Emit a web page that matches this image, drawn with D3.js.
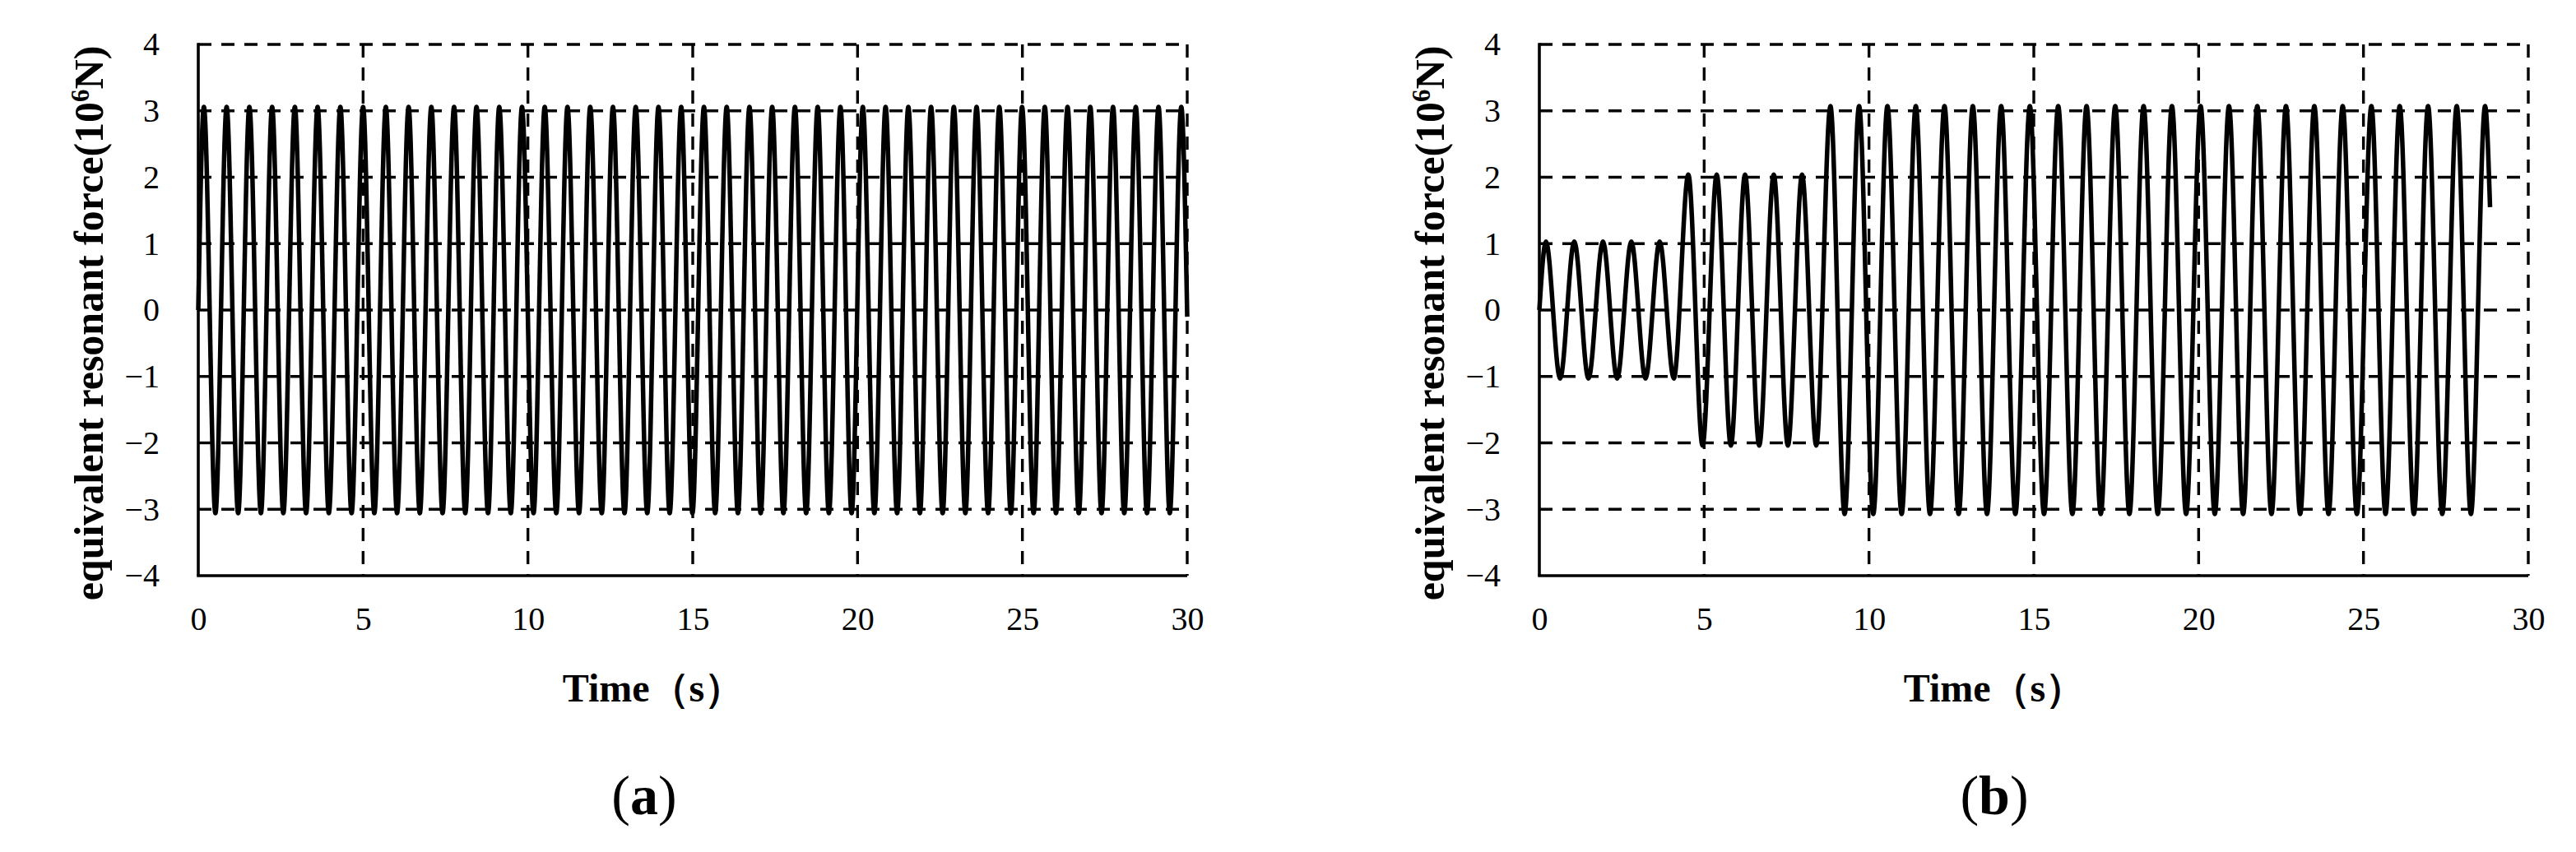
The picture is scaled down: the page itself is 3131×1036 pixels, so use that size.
<!DOCTYPE html>
<html>
<head>
<meta charset="utf-8">
<script src="https://cdn.jsdelivr.net/npm/d3@7"></script>
<style>
  body { margin: 0; background: #fff; }
  text { font-family: "Liberation Serif", "Times New Roman", serif; fill: #000; }
</style>
</head>
<body>
<div id="chart"></div>
<script>
// axis ticks
var xTicks = [0, 5, 10, 15, 20, 25, 30];
var yTicks = [-4, -3, -2, -1, 0, 1, 2, 3, 4];

// (a) constant resonance - peaks / troughs
var timeA = [0,
  0.17, 0.52, 0.86, 1.21, 1.55, 1.90, 2.24, 2.58, 2.93, 3.27, 3.62, 3.96, 4.31, 4.65, 5.00, 5.34,
  5.69, 6.03, 6.38, 6.72, 7.07, 7.41, 7.76, 8.10, 8.44, 8.79, 9.13, 9.48, 9.82, 10.17, 10.51, 10.86,
  11.20, 11.55, 11.89, 12.24, 12.58, 12.93, 13.27, 13.62, 13.96, 14.30, 14.65, 14.99, 15.34, 15.68,
  16.03, 16.37, 16.72, 17.06, 17.41, 17.75, 18.10, 18.44, 18.79, 19.13, 19.48, 19.82, 20.16, 20.51,
  20.85, 21.20, 21.54, 21.89, 22.23, 22.58, 22.92, 23.27, 23.61, 23.96, 24.30, 24.65, 24.99, 25.34,
  25.68, 26.02, 26.37, 26.71, 27.06, 27.40, 27.75, 28.09, 28.44, 28.78, 29.13, 29.47, 29.82,
  30];
var forceA = [0,
  3.06, -3.06, 3.06, -3.06, 3.06, -3.06, 3.06, -3.06, 3.06, -3.06, 3.06, -3.06, 3.06, -3.06, 3.06, -3.06,
  3.06, -3.06, 3.06, -3.06, 3.06, -3.06, 3.06, -3.06, 3.06, -3.06, 3.06, -3.06, 3.06, -3.06, 3.06, -3.06,
  3.06, -3.06, 3.06, -3.06, 3.06, -3.06, 3.06, -3.06, 3.06, -3.06, 3.06, -3.06, 3.06, -3.06, 3.06, -3.06,
  3.06, -3.06, 3.06, -3.06, 3.06, -3.06, 3.06, -3.06, 3.06, -3.06, 3.06, -3.06, 3.06, -3.06, 3.06, -3.06,
  3.06, -3.06, 3.06, -3.06, 3.06, -3.06, 3.06, -3.06, 3.06, -3.06, 3.06, -3.06, 3.06, -3.06, 3.06, -3.06,
  3.06, -3.06, 3.06, -3.06, 3.06, -3.06,
  3.06,
  -0.10];

// (b) stepped resonance
var timeB = [0,
  0.20, 0.63, 1.06, 1.49, 1.93, 2.36, 2.79, 3.22, 3.65, 4.08,
  4.52, 4.95, 5.38, 5.81, 6.24, 6.67, 7.11, 7.54, 7.97, 8.40,
  8.83, 9.26, 9.70, 10.13, 10.56, 10.99, 11.42, 11.85, 12.29, 12.72, 13.15, 13.58, 14.01, 14.44,
  14.88, 15.31, 15.74, 16.17, 16.60, 17.03, 17.47, 17.90, 18.33, 18.76, 19.19, 19.62, 20.06, 20.49,
  20.92, 21.35, 21.78, 22.21, 22.65, 23.08, 23.51, 23.94, 24.37, 24.80, 25.24, 25.67, 26.10, 26.53,
  26.96, 27.39, 27.83, 28.26, 28.69,
  28.84];
var forceB = [0,
  1.03, -1.03, 1.03, -1.03, 1.03, -1.03, 1.03, -1.03, 1.03, -1.03,
  2.04, -2.04, 2.04, -2.04, 2.04, -2.04, 2.04, -2.04, 2.04, -2.04,
  3.07, -3.07, 3.07, -3.07, 3.07, -3.07, 3.07, -3.07, 3.07, -3.07, 3.07, -3.07, 3.07, -3.07,
  3.07, -3.07, 3.07, -3.07, 3.07, -3.07, 3.07, -3.07, 3.07, -3.07, 3.07, -3.07, 3.07, -3.07,
  3.07, -3.07, 3.07, -3.07, 3.07, -3.07, 3.07, -3.07, 3.07, -3.07, 3.07, -3.07, 3.07, -3.07,
  3.07, -3.07, 3.07, -3.07, 3.07,
  1.55];

var W = 3131, H = 1036;
var plotTop = 54, plotBottom = 700;

var svg = d3.select("#chart").append("svg")
    .attr("width", W)
    .attr("height", H)
    .style("background", "#fff");

var y = d3.scaleLinear().domain([-4, 4]).range([plotBottom, plotTop]);

var panels = [
  { left: 241, right: 1443, t: timeA, f: forceA, tag: "a", tagX: 783 },
  { left: 1871, right: 3073, t: timeB, f: forceB, tag: "b", tagX: 2424 }
];

panels.forEach(function (p) {
    var x = d3.scaleLinear().domain([0, 30]).range([p.left, p.right]);
    var g = svg.append("g");

    // dashed grid
    g.selectAll("line.hgrid")
        .data(yTicks.filter(function (d) { return d > -4; }))
        .enter().append("line")
        .attr("class", "hgrid")
        .attr("x1", p.left).attr("x2", p.right)
        .attr("y1", function (d) { return y(d); })
        .attr("y2", function (d) { return y(d); })
        .attr("stroke", "#000").attr("stroke-width", 3.4)
        .attr("stroke-dasharray", "16,12");

    g.selectAll("line.vgrid")
        .data(xTicks.filter(function (d) { return d > 0; }))
        .enter().append("line")
        .attr("class", "vgrid")
        .attr("x1", function (d) { return x(d); })
        .attr("x2", function (d) { return x(d); })
        .attr("y1", plotTop).attr("y2", plotBottom)
        .attr("stroke", "#000").attr("stroke-width", 3.4)
        .attr("stroke-dasharray", "16,12");

    // signal
    var pts = p.t.map(function (d, i) { return [d, p.f[i]]; });
    var line = d3.line()
        .x(function (d) { return x(d[0]); })
        .y(function (d) { return y(d[1]); })
        .curve(d3.curveMonotoneX);

    g.append("path")
        .datum(pts)
        .attr("d", line)
        .attr("fill", "none")
        .attr("stroke", "#000")
        .attr("stroke-width", 5.5)
        .attr("stroke-linejoin", "round");

    // solid axis lines
    g.append("line")
        .attr("x1", p.left).attr("x2", p.left)
        .attr("y1", plotTop - 1.7).attr("y2", plotBottom)
        .attr("stroke", "#000").attr("stroke-width", 3.6);
    g.append("line")
        .attr("x1", p.left - 1.8).attr("x2", p.right)
        .attr("y1", plotBottom).attr("y2", plotBottom)
        .attr("stroke", "#000").attr("stroke-width", 3.6);

    // tick labels
    var yAxis = d3.axisLeft(y).tickValues(yTicks).tickSize(0).tickPadding(47);
    var ya = g.append("g").attr("transform", "translate(" + p.left + ",0)").call(yAxis);
    ya.select(".domain").remove();
    ya.selectAll("text").style("font-family", "Liberation Serif").style("font-size", "40px");

    var xAxis = d3.axisBottom(x).tickValues(xTicks).tickSize(0).tickPadding(38);
    var xa = g.append("g").attr("transform", "translate(0," + plotBottom + ")").call(xAxis);
    xa.select(".domain").remove();
    xa.selectAll("text").style("font-family", "Liberation Serif").style("font-size", "40px");

    // axis titles
    var yt = g.append("text")
        .attr("transform", "translate(" + (p.left - 134) + ",393) rotate(-90)")
        .attr("text-anchor", "middle")
        .attr("dy", "0.35em")
        .style("font-size", "50px")
        .style("font-weight", "bold");
    yt.append("tspan").text("equivalent resonant force(10");
    yt.append("tspan").text("6").attr("baseline-shift", "super").style("font-size", "31px");
    yt.append("tspan").text("N)");

    g.append("text")
        .attr("x", p.left + 553)
        .attr("y", 853)
        .attr("text-anchor", "middle")
        .style("font-size", "48px")
        .style("font-weight", "bold")
        .text("Time（s）");

    // sub-figure tag
    var tg = g.append("text")
        .attr("x", p.tagX)
        .attr("y", 990)
        .attr("text-anchor", "middle")
        .style("font-size", "68px");
    tg.append("tspan").text("(");
    tg.append("tspan").text(p.tag).style("font-weight", "bold");
    tg.append("tspan").text(")");
});
</script>
</body>
</html>
